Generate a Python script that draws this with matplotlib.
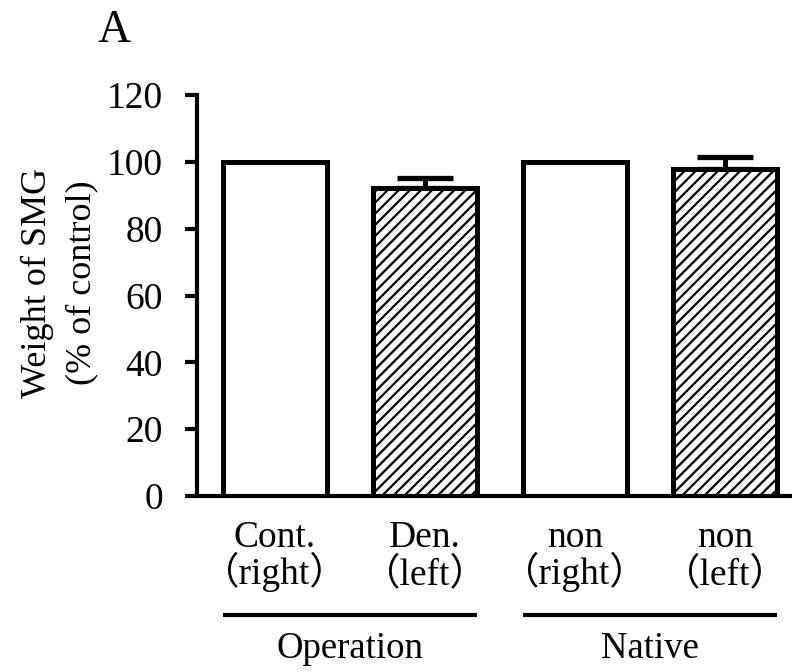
import matplotlib
matplotlib.use('Agg')
import matplotlib.pyplot as plt
import matplotlib.transforms as mtransforms

plt.rcParams['font.family'] = ['Liberation Serif', 'Noto Sans CJK JP']
plt.rcParams['hatch.linewidth'] = 1.6

# data
names = ['Cont.', 'Den.', 'non', 'non']
sides = ['（right）', '（left）', '（right）', '（left）']
values = [100, 92.3, 100, 97.8]
errors = [0, 2.9, 0, 3.6]
hatches = ['', '///', '', '///']
groups = ['Operation', 'Native']
group_members = [[0, 1], [2, 3]]
yticks = [0, 20, 40, 60, 80, 100, 120]

fig = plt.figure(figsize=(7.92, 6.72), dpi=100)
ax = fig.add_axes([0.2487, 0.2619, 0.7513, 0.5967])

x = list(range(len(values)))
bars = ax.bar(x, values, width=0.69, color='white', edgecolor='black',
              linewidth=3.6, zorder=2)
for b, h in zip(bars, hatches):
    b.set_hatch(h)

# upward-only error bars
err_idx = [i for i, e in enumerate(errors) if e > 0]
ax.errorbar([x[i] for i in err_idx], [values[i] for i in err_idx],
            yerr=[[0] * len(err_idx), [errors[i] for i in err_idx]],
            fmt='none', ecolor='black', elinewidth=3.6, capsize=20,
            capthick=3.8, zorder=1)

ax.set_xlim(-0.52, 3.447)
ax.set_ylim(0, 120)
ax.set_yticks(yticks)
ax.tick_params(axis='y', labelsize=27, length=8.5, width=3, pad=16)
ax.set_xticks([])

for side in ['top', 'right']:
    ax.spines[side].set_visible(False)
ax.spines['left'].set_linewidth(3)
ax.spines['bottom'].set_linewidth(3)
ax.spines['bottom'].set_capstyle('butt')

trans = mtransforms.blended_transform_factory(ax.transData, ax.transAxes)

# two-line category labels, aligned on baselines
for xi, n, s in zip(x, names, sides):
    ax.text(xi, -0.127, n, fontsize=27, ha='center', va='baseline',
            transform=trans)
    ax.text(xi, -0.220, s, fontsize=27, ha='center', va='baseline',
            transform=trans)

# group underlines and names
for name, members in zip(groups, group_members):
    x0 = x[members[0]] - 0.347
    x1 = x[members[-1]] + 0.347
    ax.plot([x0, x1], [-0.297, -0.297], color='black', linewidth=3,
            transform=trans, clip_on=False, solid_capstyle='butt')
    ax.text((x[members[0]] + x[members[-1]]) / 2, -0.405, name, fontsize=26.5,
            ha='center', va='baseline', transform=trans)

fig.text(60 / 792, 1 - 283 / 672, 'Weight of SMG\n(% of control)', fontsize=26,
         rotation=90, ha='center', va='center', multialignment='center',
         linespacing=1.45)
fig.text(97 / 792, 1 - 42 / 672, 'A', fontsize=33, ha='left', va='baseline')

fig.savefig('out.png', dpi=100)
